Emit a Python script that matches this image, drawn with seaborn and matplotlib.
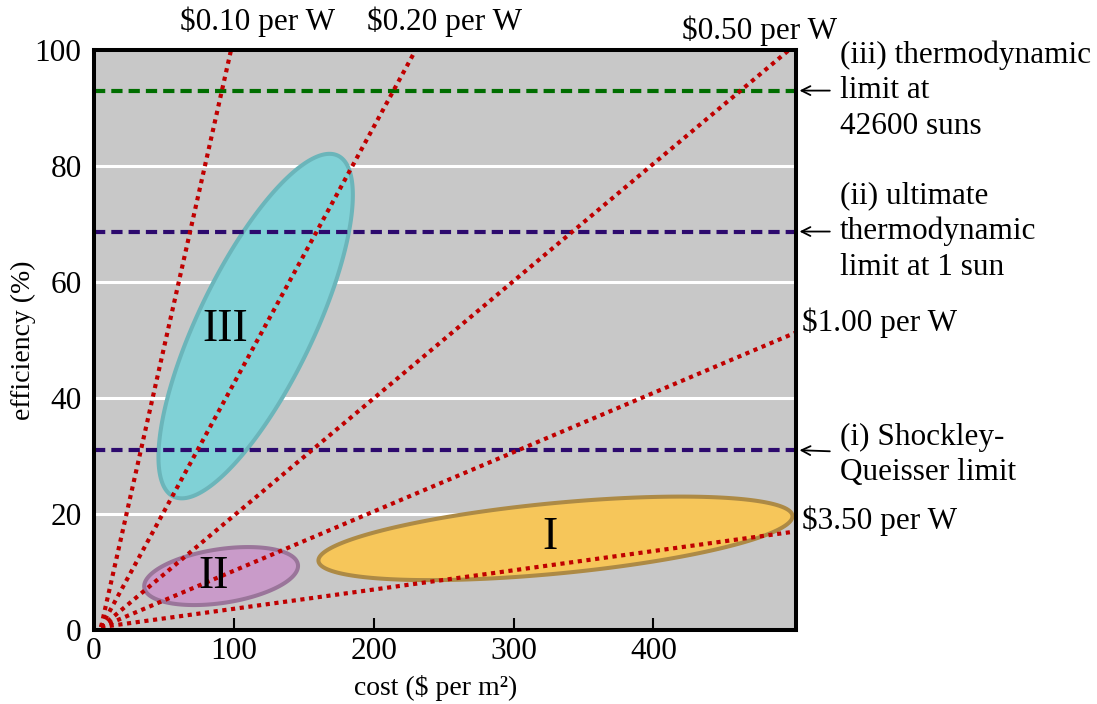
import numpy as np
import pandas as pd
import matplotlib
matplotlib.use("Agg")
import matplotlib.pyplot as plt
import seaborn as sns

# --- data -----------------------------------------------------------------
# cost-per-watt guide lines (all start from the same point near the origin)
price_labels = ["$0.10 per W", "$0.20 per W", "$0.50 per W", "$1.00 per W", "$3.50 per W"]
price_start_cost = 5.0
price_start_eff = 0.5
price_end_cost = [98, 230, 497, 502, 502]
price_end_eff = [100, 100, 100, 51.3, 17.0]

# efficiency limits
limit_values = [93.0, 68.7, 31.0]
limit_labels = [
    "(iii) thermodynamic\nlimit at\n42600 suns",
    "(ii) ultimate\nthermodynamic\nlimit at 1 sun",
    "(i) Shockley-\nQueisser limit",
]

# technology generations drawn as tilted ellipses
region_names = ["I", "II", "III"]
region_center_cost = [330.0, 90.9, 115.6]
region_center_eff = [15.8, 9.3, 52.4]
region_half_cost = [169.5, 55.0, 69.5]
region_half_eff = [7.2, 5.0, 29.7]
region_tilt = [0.53, 0.35, 0.76]

x_ticks = [0, 100, 200, 300, 400]
y_ticks = [0, 20, 40, 60, 80, 100]

# --- style ----------------------------------------------------------------
sns.set_theme(style="darkgrid", rc={
    "axes.facecolor": "#c8c8c8",
    "grid.color": "white",
    "grid.linewidth": 2.2,
    "axes.edgecolor": "black",
    "axes.linewidth": 2.9,
    "text.color": "black",
    "axes.labelcolor": "black",
    "xtick.color": "black",
    "ytick.color": "black",
})
plt.rcParams["font.family"] = ["Liberation Serif", "DejaVu Serif"]

FS = 22.5
fig = plt.figure(figsize=(10.97, 7.04), dpi=100)
W, H = 1097, 704
ax = fig.add_axes([94 / W, (H - 630) / H, 702 / W, 580 / H])
ax.set_xlim(0, 502)
ax.set_ylim(0, 100)

# horizontal grid only
ax.grid(axis="x", visible=False)
ax.grid(axis="y", visible=True)
ax.set_axisbelow(True)

# generation ellipses
fills = ["#f6c65a", "#c99bc9", "#80d1d6"]
edges = ["#ad8a45", "#9a759a", "#6bb5ba"]
t = np.linspace(0, 2 * np.pi, 400)
for i in range(len(region_names)):
    d = np.arccos(region_tilt[i])
    ex = region_center_cost[i] + region_half_cost[i] * np.cos(t)
    ey = region_center_eff[i] + region_half_eff[i] * np.cos(t - d)
    ax.fill(ex, ey, facecolor=fills[i], edgecolor=edges[i], lw=2.9, zorder=2)

label_pos = [(326, 15.9), (85.7, 9.1), (93.6, 51.7)]
for name, (lx, ly) in zip(region_names, label_pos):
    ax.text(lx, ly, name, fontsize=33, ha="center", va="center", zorder=6)

# efficiency limits
limit_colors = ["#006e00", "#2d0a6e", "#2d0a6e"]
for val, col in zip(limit_values, limit_colors):
    ax.axhline(val, color=col, lw=3.0, linestyle=(0, (2.7, 1.45)), zorder=3)

# price-per-watt lines
lines = pd.DataFrame({
    "label": np.repeat(price_labels, 2),
    "cost": np.ravel([[price_start_cost, c] for c in price_end_cost]),
    "eff": np.ravel([[price_start_eff, e] for e in price_end_eff]),
})
for lab, grp in lines.groupby("label", sort=False):
    sns.lineplot(data=grp, x="cost", y="eff", ax=ax, color="#c00000", lw=3.0,
                 linestyle=(0, (1, 1.1)), dash_capstyle="butt", sort=False,
                 zorder=4, legend=False)

# price labels
ax.text(117, 104.8, price_labels[0], fontsize=FS, ha="center", va="center", clip_on=False)
ax.text(251, 104.8, price_labels[1], fontsize=FS, ha="center", va="center", clip_on=False)
ax.text(476, 103.4, price_labels[2], fontsize=FS, ha="center", va="center", clip_on=False)
ax.text(506.5, 52.9, price_labels[3], fontsize=FS, ha="left", va="center", clip_on=False)
ax.text(506.5, 18.8, price_labels[4], fontsize=FS, ha="left", va="center", clip_on=False)

# limit annotations with arrows pointing at the right spine
text_offsets = [0.0, 0.0, -0.8]
for val, lab, off in zip(limit_values, limit_labels, text_offsets):
    ax.annotate(lab, xy=(504.5, val), xytext=(533.5, val + off), fontsize=FS,
                ha="left", va="center", annotation_clip=False, linespacing=1.3,
                arrowprops=dict(arrowstyle="->", color="black", lw=1.3,
                                shrinkA=5, shrinkB=0, mutation_scale=16))

# axes, ticks, labels
ax.set_xticks(x_ticks)
ax.set_yticks(y_ticks)
ax.tick_params(axis="x", direction="in", length=8.5, width=1.5, color="black",
               labelsize=FS, pad=5, bottom=True)
ax.tick_params(axis="y", length=0, labelsize=FS, pad=9)
ax.set_xlabel("cost ($ per m²)", fontsize=20)
ax.set_ylabel("efficiency (%)", fontsize=20)
ax.xaxis.set_label_coords((436 - 94) / 702, -0.077)
ax.yaxis.set_label_coords(-0.083, 0.5)
for s in ax.spines.values():
    s.set_visible(True)
    s.set_color("black")
    s.set_linewidth(2.9)
    s.set_zorder(7)

fig.savefig("out.png", dpi=100)
